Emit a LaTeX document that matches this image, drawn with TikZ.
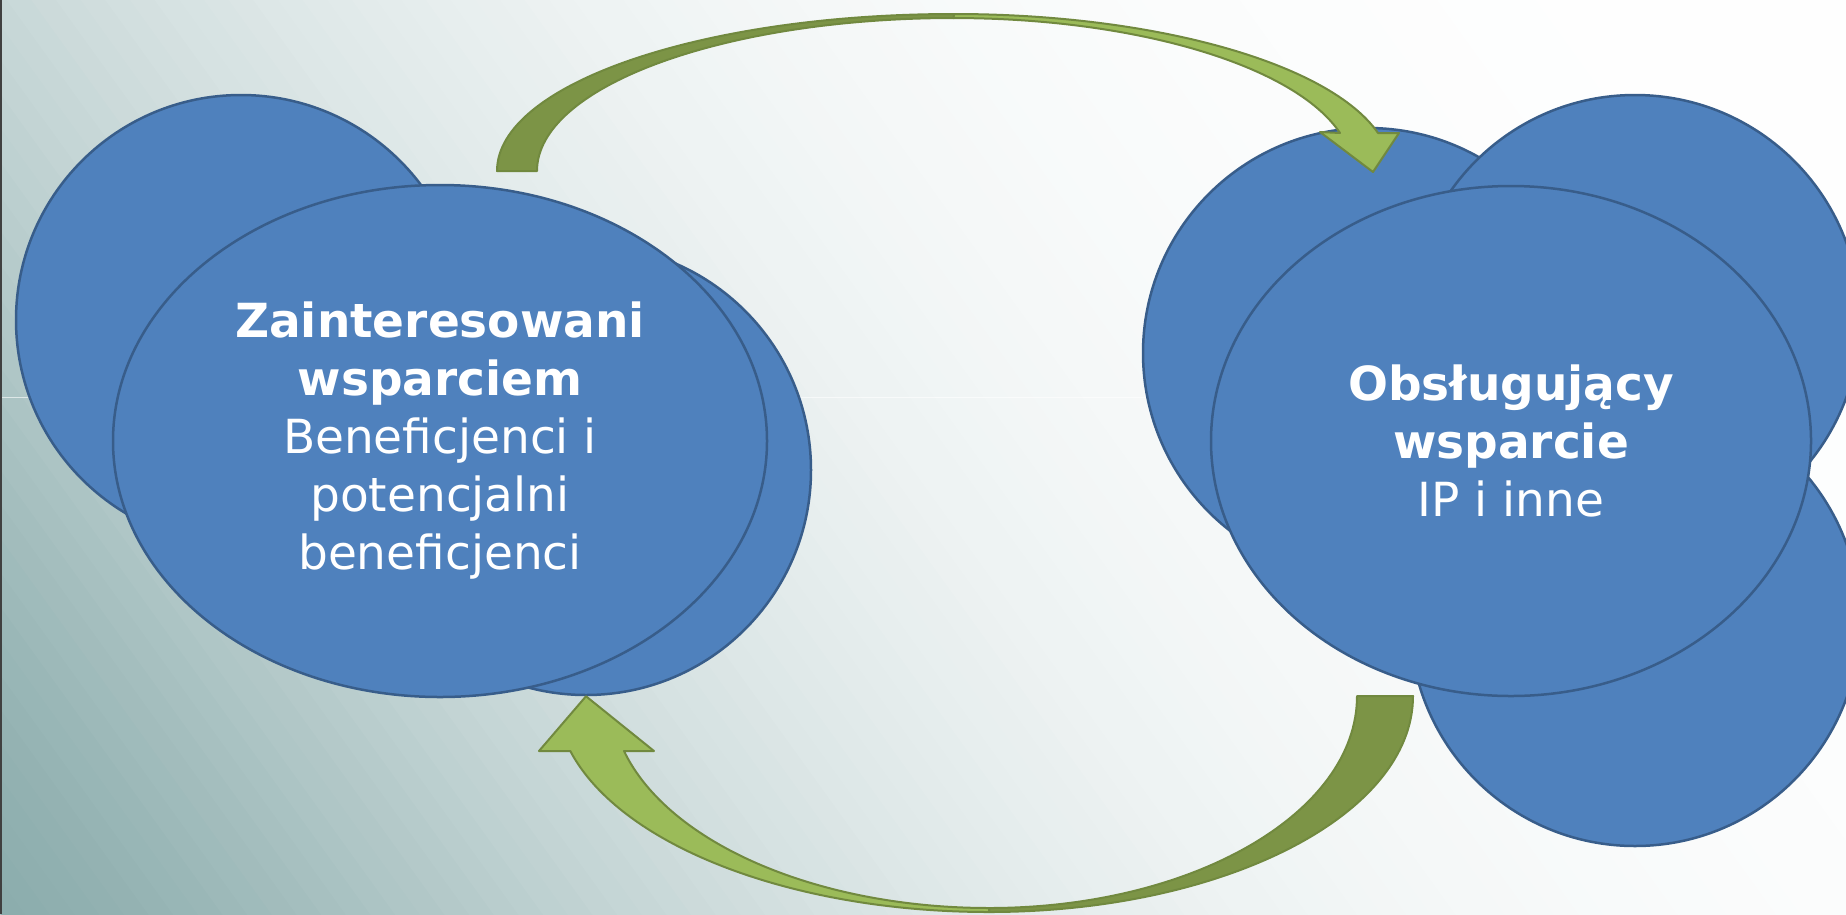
\documentclass[tikz,border=0pt]{standalone}
\usepackage{fontspec}
\setmainfont{DejaVu Sans}
\usetikzlibrary{shapes.geometric}

\definecolor{bgteal}{RGB}{140,173,173}
\definecolor{blobfill}{RGB}{79,129,189}
\definecolor{blobline}{RGB}{56,93,138}
\definecolor{arrowlight}{RGB}{155,187,89}
\definecolor{arrowdark}{RGB}{124,148,70}
\definecolor{arrowline}{RGB}{113,137,63}

\begin{document}
\begin{tikzpicture}[x=1pt,y=-1pt,
		back node/.style={circle,draw=blobline,fill=blobfill,line width=2.5pt,minimum size=450pt,inner sep=0pt},
		main node/.style={ellipse,draw=blobline,fill=blobfill,line width=2.5pt,inner sep=0pt,text=white,align=center,font=\fontsize{47}{58}\selectfont},
		arrow light/.style={fill=arrowlight,draw=arrowline,line width=2pt,line join=round},
		arrow dark/.style={fill=arrowdark,draw=arrowline,line width=2pt,line join=round}]
		\useasboundingbox (0,0) rectangle (1846,914);
		% 背景
		\begin{scope}
			\clip (0,0) rectangle (1846,914);
			\begin{scope}[shift={(0,914)},rotate=35.8]
				\foreach \s in {0,20,...,2060}{
					\pgfmathsetmacro\p{100*exp(-((\s+10)/659)^1.486)}
					\fill[bgteal!\p!white] (\s,-800) rectangle ++(21,1950);
				}
			\end{scope}
		\end{scope}
		\draw[white,opacity=.6,line width=1pt] (0,397) -- (1846,397);
		\draw[black!75,line width=2pt] (1,0) -- (1,914);
		
		\node[back node] (zb1) at (241,320) {};
		\node[back node] (zb2) at (586,470) {};
		\node[main node,minimum width=654pt,minimum height=512pt] (zain) at (440,441)
			{\textbf{Zainteresowani}\\\textbf{wsparciem}\\Beneficjenci i\\potencjalni\\beneficjenci};
		\node[back node] (ob1) at (1368,353) {};
		\node[back node] (ob2) at (1635,320) {};
		\node[back node] (ob3) at (1635,621) {};
		\node[main node,minimum width=600pt,minimum height=510pt] (obsl) at (1511,441)
			{\textbf{Obsługujący}\\\textbf{wsparcie}\\IP i inne};
		
		% 箭头
		\path[arrow dark] (497,171) arc[start angle=180,end angle=270,x radius=457,y radius=157]
			-- (954,18) arc[start angle=270,end angle=180,x radius=417,y radius=153] -- cycle;
		\path[arrow light] (954,14) arc[start angle=270,end angle=346,x radius=437,y radius=157]
			-- (1399,133) -- (1373,172) -- (1320,132) -- (1340,133)
			arc[start angle=345.6,end angle=270,x radius=399,y radius=153] -- cycle;
		\path[arrow dark] (1413,696) arc[start angle=0,end angle=90,x radius=424,y radius=216]
			-- (989,908) arc[start angle=90,end angle=0,x radius=368,y radius=212] -- cycle;
		\path[arrow light] (989,912) arc[start angle=90,end angle=165.25,x radius=433,y radius=216]
			-- (539,751) -- (zb2.south) -- (654,751) -- (624,751)
			arc[start angle=164.96,end angle=90,x radius=378,y radius=212] -- cycle;
\end{tikzpicture}
\end{document}
